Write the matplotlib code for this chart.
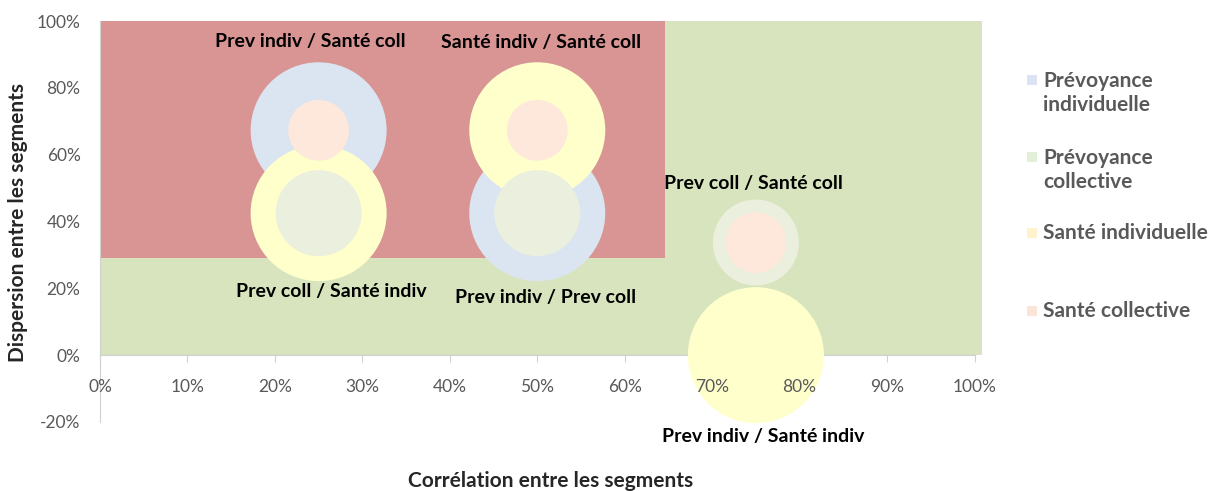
import matplotlib.pyplot as plt
from matplotlib.patches import Rectangle
import numpy as np

plt.rcParams['font.family'] = ['Lato', 'DejaVu Sans']

# zones de fond (x fin, y debut, y fin)
zone_x_end = [1.008, 0.646]
zone_y_start = [0.0, 0.292]
zone_y_end = [1.0, 1.0]
zone_colors = ["#D7E4BD", "#D99594"]

# bulles : une serie par segment
series = ["Prévoyance\nindividuelle", "Prévoyance\ncollective", "Santé individuelle", "Santé collective"]
bubble_colors = ["#DBE4F1", "#EAEFDE", "#FFFFCC", "#FDE8DB"]
legend_colors = ["#DAE3F3", "#E2F0D9", "#FFF2CC", "#FBE5D6"]

prev_indiv_x = [0.25, 0.50]
prev_indiv_y = [0.673, 0.425]
prev_indiv_size = [1.0, 1.0]

prev_coll_x = [0.25, 0.50, 0.75]
prev_coll_y = [0.425, 0.425, 0.337]
prev_coll_size = [0.4, 0.4, 0.4]

sante_indiv_x = [0.25, 0.50, 0.75]
sante_indiv_y = [0.425, 0.673, 0.0]
sante_indiv_size = [1.0, 1.0, 1.0]

sante_coll_x = [0.25, 0.50, 0.75]
sante_coll_y = [0.673, 0.673, 0.337]
sante_coll_size = [0.2, 0.2, 0.2]

# etiquettes des couples
pair_labels = ["Prev indiv / Santé coll", "Santé indiv / Santé coll", "Prev coll / Santé indiv",
               "Prev indiv / Prev coll", "Prev coll / Santé coll", "Prev indiv / Santé indiv"]
pair_x = [0.25, 0.50, 0.25, 0.50, 0.75, 0.75]
pair_y = [0.673, 0.673, 0.425, 0.425, 0.337, 0.0]
pair_offsets = [(-8, 89), (4, 88), (13, -78), (8, -84), (-2, 59), (7, -81)]

x_ticks = np.arange(0, 1.01, 0.1)
y_ticks = np.arange(-0.2, 1.01, 0.2)

fig = plt.figure(figsize=(12.21, 4.91), dpi=100)
rect = [100/1221, 69/491, 892/1221, 401/491]
ax = fig.add_axes(rect)
ax.set_xlim(0, 1.02)
ax.set_ylim(-0.2, 1.0)

for xe, ys, ye, c in zip(zone_x_end, zone_y_start, zone_y_end, zone_colors):
    ax.add_patch(Rectangle((0, ys), xe, ye - ys, facecolor=c, edgecolor="none", zorder=1))

# taille des bulles : rayon de 68 px pour la taille 1
k = (68 * 0.72 * 2) ** 2
ax.scatter(prev_indiv_x, prev_indiv_y, s=np.array(prev_indiv_size) * k, color=bubble_colors[0], zorder=3, clip_on=False, linewidths=0)
ax.scatter(sante_indiv_x, sante_indiv_y, s=np.array(sante_indiv_size) * k, color=bubble_colors[2], zorder=4, clip_on=False, linewidths=0)
ax.scatter(prev_coll_x, prev_coll_y, s=np.array(prev_coll_size) * k, color=bubble_colors[1], zorder=5, clip_on=False, linewidths=0)
ax.scatter(sante_coll_x, sante_coll_y, s=np.array(sante_coll_size) * k, color=bubble_colors[3], zorder=6, clip_on=False, linewidths=0)

for lab, x, y, off in zip(pair_labels, pair_x, pair_y, pair_offsets):
    ax.annotate(lab, (x, y), xytext=off, textcoords="offset pixels", ha="center", va="center",
                fontsize=14, fontweight="bold", color="black", zorder=7, annotation_clip=False)

# axes
for s in ["top", "right"]:
    ax.spines[s].set_visible(False)
ax.spines["bottom"].set_position(("data", 0))
ax.spines["bottom"].set_bounds(0, 1)
ax.spines["left"].set_bounds(-0.2, 1.0)
ax.spines["bottom"].set_color("#D0D0D0")
ax.spines["left"].set_color("#D0D0D0")
ax.spines["bottom"].set_zorder(2)
ax.set_xticks(x_ticks)
ax.set_yticks(y_ticks)
ax.set_yticklabels([f"{v*100:.0f}%" for v in y_ticks])
ax.tick_params(axis="x", length=5, color="#D0D0D0", labelbottom=False)
ax.tick_params(axis="y", length=0, labelcolor="#595959", labelsize=12.5, pad=14)
ax.patch.set_visible(False)

# etiquettes de l'axe x au-dessus des bulles
ax2 = fig.add_axes(rect, sharex=ax)
ax2.set_ylim(-0.2, 1.0)
ax2.patch.set_visible(False)
for s in ax2.spines.values():
    s.set_visible(False)
ax2.spines["bottom"].set_position(("data", 0))
ax2.set_yticks([])
ax2.set_xticks(x_ticks)
ax2.set_xticklabels([f"{v*100:.0f}%" for v in x_ticks])
ax2.tick_params(axis="x", length=0, labelcolor="#595959", labelsize=12.5, pad=17)

fig.text(18/1221, 1 - 222/491, "Dispersion entre les segments", rotation=90, ha="center", va="center",
         fontsize=15, fontweight="bold", color="#262626")
fig.text(551/1221, 1 - 481/491, "Corrélation entre les segments", ha="center", va="center",
         fontsize=15, fontweight="bold", color="#262626")

# legende
leg_y = [80, 157, 233, 311]
leg_text_y = [93, 170, 233, 311]
for lab, c, yy, ty in zip(series, legend_colors, leg_y, leg_text_y):
    fig.patches.append(Rectangle((1027/1221, 1 - (yy + 5)/491), 10/1221, 10/491, facecolor=c,
                                 edgecolor="none", transform=fig.transFigure))
    fig.text(1043/1221, 1 - ty/491, lab, ha="left", va="center", fontsize=15, fontweight="bold",
             color="#595959", linespacing=1.25)

fig.savefig("out.png", dpi=100)
